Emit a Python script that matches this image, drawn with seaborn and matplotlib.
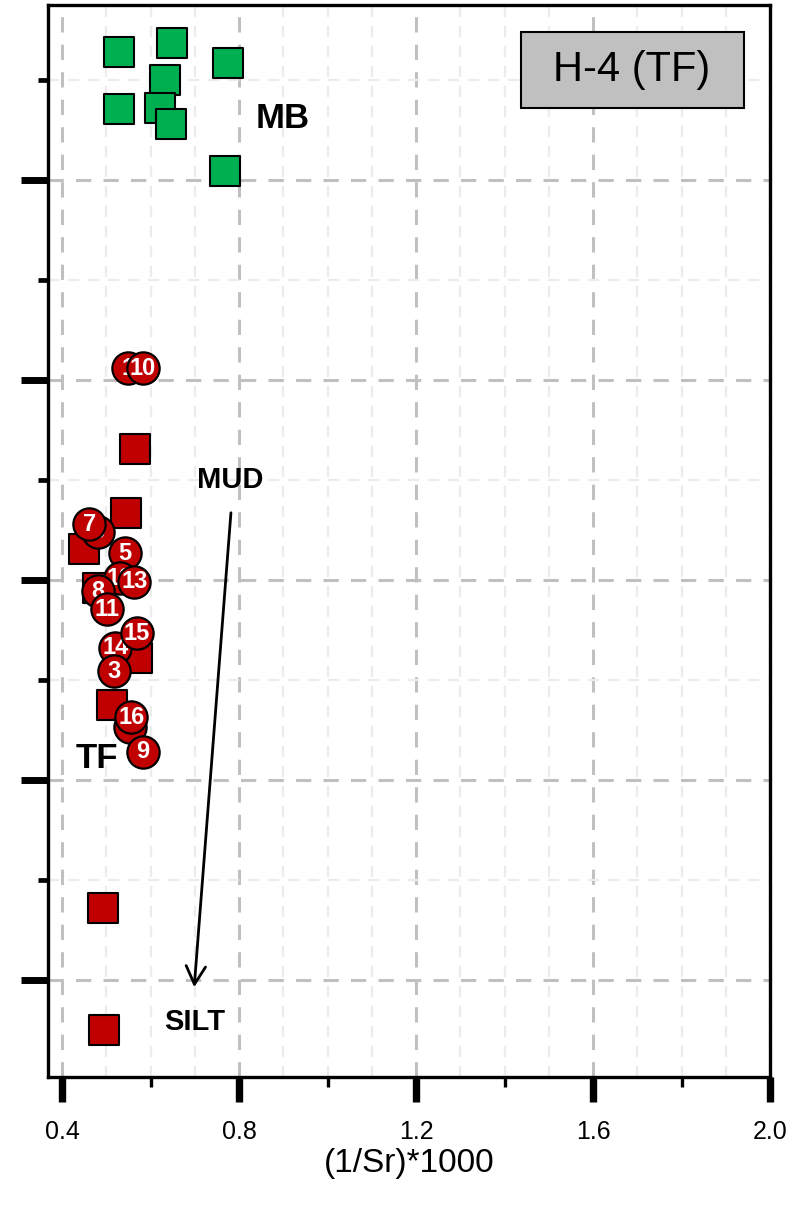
"""Sr mixing plot for core H-4 (TF): 1/Sr vs isotope ratio."""
import numpy as np
import matplotlib
matplotlib.use("Agg")
import matplotlib.pyplot as plt
from matplotlib.patches import Rectangle
from matplotlib.ticker import MultipleLocator, FormatStrFormatter
import seaborn as sns

# MB end member (green squares)
mb_x = [0.529, 0.649, 0.775, 0.633, 0.529, 0.621, 0.646, 0.768]
mb_y = [5.64, 5.685, 5.585, 5.50, 5.355, 5.36, 5.28, 5.045]

# TF bulk samples (red squares)
sq_x = [0.565, 0.545, 0.450, 0.481, 0.569, 0.513, 0.493, 0.495]
sq_y = [3.655, 3.335, 3.155, 2.96, 2.61, 2.375, 1.36, 0.75]

# numbered TF samples (red circles), listed in drawing order
num_ids = ["1", "10", "6", "7", "5", "12", "13", "8", "11", "4", "16", "9", "14", "3", "15"]
num_x = [0.549, 0.583, 0.481, 0.461, 0.542, 0.531, 0.563, 0.481, 0.502, 0.554, 0.556, 0.583, 0.520, 0.518, 0.569]
num_y = [4.06, 4.06, 3.24, 3.28, 3.135, 3.01, 2.99, 2.945, 2.855, 2.265, 2.315, 2.14, 2.66, 2.545, 2.735]

GREEN = "#00b050"
RED = "#c00000"

sns.set_theme(style="white")
plt.rcParams["font.family"] = ["Liberation Sans", "DejaVu Sans"]
plt.rcParams.update({"text.color": "black", "axes.labelcolor": "black",
                     "xtick.color": "black", "ytick.color": "black"})

fig = plt.figure(figsize=(8.09, 12.08), dpi=100)
ax = fig.add_axes([48 / 809, 1 - 1077 / 1208, 722 / 809, 1072 / 1208])

sns.scatterplot(x=mb_x, y=mb_y, marker="s", s=450, color=GREEN,
                edgecolor="black", linewidth=1.5, ax=ax, zorder=3)
sns.scatterplot(x=sq_x, y=sq_y, marker="s", s=450, color=RED,
                edgecolor="black", linewidth=1.5, ax=ax, zorder=3)

# each circle + its number stacked so later ones cover earlier ones
for i, (lab, x, y) in enumerate(zip(num_ids, num_x, num_y)):
    z = 4 + 2 * i
    sns.scatterplot(x=[x], y=[y], marker="o", s=540, color=RED,
                    edgecolor="black", linewidth=1.6, ax=ax, zorder=z)
    ax.text(x, y, lab, ha="center", va="center", color="white",
            fontsize=17, fontweight="bold", zorder=z + 1)

ax.set_xlim(0.368, 2.0)
ax.set_ylim(0.515, 5.875)

ax.xaxis.set_major_locator(MultipleLocator(0.4))
ax.xaxis.set_minor_locator(MultipleLocator(0.2))
ax.xaxis.set_major_formatter(FormatStrFormatter("%.1f"))
ax.yaxis.set_major_locator(MultipleLocator(1))
ax.yaxis.set_minor_locator(MultipleLocator(0.5))

# light vertical grid every 0.1
for v in np.arange(0.5, 2.0, 0.1):
    if abs(v / 0.4 - round(v / 0.4)) > 1e-6:
        ax.axvline(v, color="#ececec", lw=1.6, ls=(0, (5, 4)), zorder=0)
ax.set_axisbelow(True)
ax.grid(which="major", color="#c0c0c0", lw=2.2, ls=(0, (5, 4)))
ax.grid(which="minor", axis="y", color="#ececec", lw=1.6, ls=(0, (5, 4)))
ax.grid(which="minor", axis="x", visible=False)

for s in ax.spines.values():
    s.set_color("black")
    s.set_linewidth(2.4)

ax.tick_params(axis="x", which="major", direction="out", length=18, width=5.3,
               labelsize=18, pad=13, color="black", bottom=True)
ax.tick_params(axis="x", which="minor", direction="out", length=7, width=2.4,
               color="black", bottom=True)
ax.tick_params(axis="y", which="major", direction="out", length=19.5, width=5,
               color="black", left=True, labelleft=False)
ax.tick_params(axis="y", which="minor", direction="out", length=7, width=3.4,
               color="black", left=True)

ax.set_xlabel("(1/Sr)*1000", fontsize=24, labelpad=3)

# group labels and mixing arrow
ax.text(0.899, 5.31, "MB", fontsize=25, fontweight="bold", ha="center", va="center")
ax.text(0.479, 2.11, "TF", fontsize=25, fontweight="bold", ha="center", va="center")
ax.text(0.780, 3.50, "MUD", fontsize=21, fontweight="bold", ha="center", va="center")
ax.text(0.700, 0.79, "SILT", fontsize=21, fontweight="bold", ha="center", va="center")
ax.annotate("", xy=(0.698, 0.95), xytext=(0.782, 3.35),
            arrowprops=dict(arrowstyle="->,head_length=0.65,head_width=0.35",
                            mutation_scale=20, lw=2, color="black"))

# title box
ax.add_patch(Rectangle((0.655, 0.904), 0.309, 0.0709, transform=ax.transAxes,
                       facecolor="#c0c0c0", edgecolor="black", lw=1.5, zorder=20))
ax.text(0.809, 0.939, "H-4 (TF)", transform=ax.transAxes, ha="center", va="center",
        fontsize=30, zorder=21)

fig.savefig("out.png", dpi=100)
